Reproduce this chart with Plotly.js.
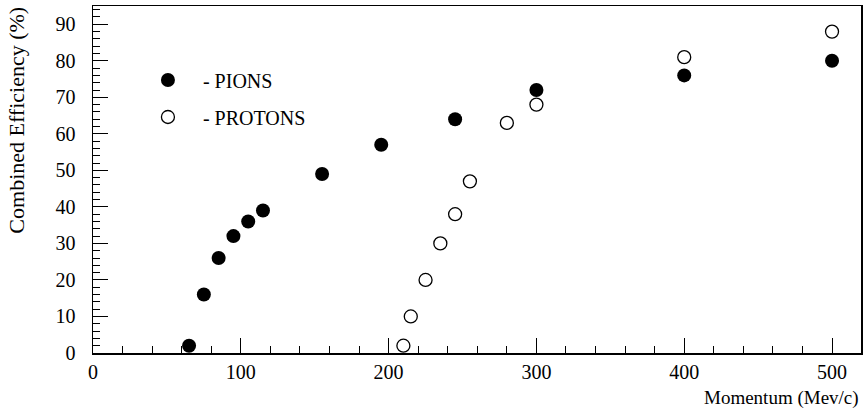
<!DOCTYPE html>
<html>
<head>
<meta charset="utf-8">
<script src="https://cdn.plot.ly/plotly-3.0.1.min.js"></script>
<style>html,body{margin:0;padding:0;background:#fff;}#chart{width:864px;height:417px;}</style>
</head>
<body>
<div id="chart"></div>
<script>
const pionMomentum = [65, 75, 85, 95, 105, 115, 155, 195, 245, 300, 400, 500];
const pionEfficiency = [2, 16, 26, 32, 36, 39, 49, 57, 64, 72, 76, 80];
const protonMomentum = [210, 215, 225, 235, 245, 255, 280, 300, 400, 500];
const protonEfficiency = [2, 10, 20, 30, 38, 47, 63, 68, 81, 88];
const xTickVals = [0, 100, 200, 300, 400, 500];
const yTickVals = [0, 10, 20, 30, 40, 50, 60, 70, 80, 90];

const FONT = '"Liberation Serif", serif';

const traces = [
  {
    x: pionMomentum, y: pionEfficiency, name: '- PIONS', type: 'scatter', mode: 'markers',
    legendgroup: 'a',
    marker: {symbol: 'circle', size: 14, color: '#000', line: {width: 0}}
  },
  {
    x: protonMomentum, y: protonEfficiency, name: '- PROTONS', type: 'scatter', mode: 'markers',
    legendgroup: 'b',
    marker: {symbol: 'circle-open', size: 13, color: '#000', line: {width: 1.3, color: '#000'}}
  }
];

const axisCommon = {
  showgrid: false, zeroline: false,
  showline: true, linecolor: '#000', linewidth: 1.5, mirror: true,
  ticks: 'inside', ticklen: 15, tickwidth: 1, tickcolor: '#000',
  tickfont: {family: FONT, size: 20, color: '#000'},
  tickmode: 'array'
};

const layout = {
  width: 864, height: 417,
  margin: {l: 93, r: 3, t: 6, b: 64},
  paper_bgcolor: '#fff', plot_bgcolor: '#fff',
  font: {family: FONT, color: '#000'},
  showlegend: true,
  legend: {
    x: 0.052, y: 0.843, xanchor: 'left', yanchor: 'top',
    bgcolor: 'rgba(0,0,0,0)', borderwidth: 0,
    font: {family: FONT, size: 20, color: '#000'},
    itemwidth: 60, tracegroupgap: 8, itemsizing: 'trace'
  },
  xaxis: Object.assign({}, axisCommon, {
    range: [0, 519.6], tickvals: xTickVals, ticktext: xTickVals.map(String),
    minor: {dtick: 20, tick0: 0, ticks: 'inside', ticklen: 7, tickwidth: 1, tickcolor: '#000'}
  }),
  yaxis: Object.assign({}, axisCommon, {
    range: [0, 95], tickvals: yTickVals, ticktext: yTickVals.map(String),
    ticklabelstandoff: 12,
    minor: {dtick: 2, tick0: 0, ticks: 'inside', ticklen: 7, tickwidth: 1, tickcolor: '#000'}
  }),
  annotations: [
    {
      text: 'Momentum (Mev/c)', xref: 'paper', yref: 'paper',
      x: 1.0, y: -0.093, xanchor: 'right', yanchor: 'top', showarrow: false,
      font: {family: FONT, size: 19, color: '#000'}
    },
    {
      text: 'Combined Efficiency (%)', xref: 'paper', yref: 'paper',
      x: -0.1, y: 1.003, xanchor: 'center', yanchor: 'top', textangle: -90, showarrow: false,
      font: {family: FONT, size: 22, color: '#000'}
    }
  ]
};

Plotly.newPlot('chart', traces, layout, {displayModeBar: false, staticPlot: true});
</script>
</body>
</html>
